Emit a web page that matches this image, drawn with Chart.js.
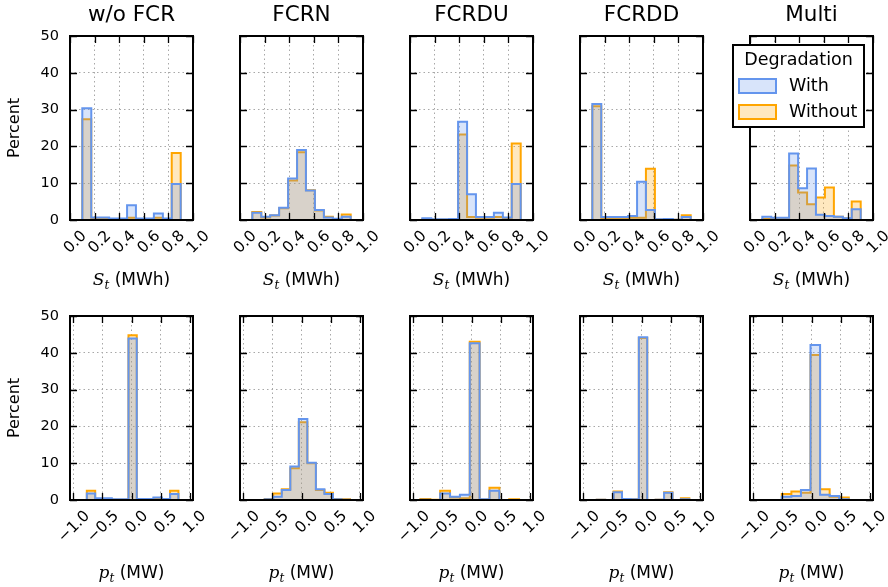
<!DOCTYPE html>
<html>
<head>
<meta charset="utf-8">
<script src="https://cdn.jsdelivr.net/npm/chart.js@4.4.0/dist/chart.umd.min.js"></script>
<style>
  html, body { margin: 0; padding: 0; background: #fff; }
  #fig { position: relative; width: 888px; height: 587px; overflow: hidden; background: #fff; }
  #fig canvas { position: absolute; }
</style>
</head>
<body>
<div id="fig"></div>
<script>
// labels
const panelTitles = ['w/o FCR', 'FCRN', 'FCRDU', 'FCRDD', 'Multi'];
const seriesLabels = ['With', 'Without'];
const legendTitle = 'Degradation';

// tick labels
const socTicks = [0.0, 0.2, 0.4, 0.6, 0.8, 1.0];
const powerTicks = [-1.0, -0.5, 0.0, 0.5, 1.0];
const percentTicks = [0, 10, 20, 30, 40, 50];

// state of charge histograms (MWh), same bins in every panel
const socEdges = [0.100, 0.173, 0.245, 0.318, 0.391, 0.464, 0.536, 0.609, 0.682, 0.755, 0.827, 0.900];
const socWithNoFcr     = [30.4, 0.7, 0.7, 0.4, 0.4, 4.0, 0.4, 0.4, 1.8, 0.4, 9.8];
const socWithoutNoFcr  = [27.4, 0.3, 0.3, 0.3, 0.3, 0.6, 0.3, 0.3, 0.6, 0.3, 18.2];
const socWithFcrn      = [2.0, 0.9, 1.3, 3.3, 11.3, 19.0, 8.0, 2.7, 0.7, 0.35, 0.9];
const socWithoutFcrn   = [2.2, 0.7, 1.2, 3.2, 10.7, 18.4, 8.1, 2.6, 0.9, 0.3, 1.5];
const socWithFcrdu     = [0.5, 0.2, 0.2, 0.3, 26.7, 7.0, 0.8, 0.8, 2.0, 0.7, 9.8];
const socWithoutFcrdu  = [0.2, 0.1, 0.1, 0.2, 23.2, 0.8, 0.6, 0.6, 0.8, 0.5, 20.8];
const socWithFcrdd     = [31.5, 0.8, 0.8, 0.8, 1.1, 10.4, 2.7, 0.2, 0.3, 0.1, 0.8];
const socWithoutFcrdd  = [30.9, 0.5, 0.5, 0.5, 0.6, 0.6, 13.9, 0.1, 0.1, 0.1, 1.3];
const socWithMulti     = [0.9, 0.6, 0.6, 18.1, 8.6, 14.0, 1.4, 1.1, 0.9, 0.5, 2.9];
const socWithoutMulti  = [0.3, 0.3, 0.3, 14.8, 7.5, 4.3, 6.1, 8.8, 0.9, 0.4, 5.0];

// power histograms (MW), bins differ per panel
const pEdgesNoFcr = [-0.770, -0.626, -0.483, -0.339, -0.196, -0.052, 0.091, 0.235, 0.378, 0.522, 0.665, 0.809];
const pWithNoFcr    = [1.8, 0.5, 0.5, 0.2, 0.2, 43.9, 0.3, 0.3, 0.7, 0.3, 1.6];
const pWithoutNoFcr = [2.5, 0.3, 0.3, 0.1, 0.1, 44.8, 0.2, 0.2, 0.4, 0.2, 2.5];
const pEdgesFcrn = [-0.781, -0.634, -0.487, -0.340, -0.193, -0.046, 0.101, 0.248, 0.395, 0.542, 0.689, 0.836];
const pWithFcrn     = [0.0, 0.2, 0.9, 2.7, 9.1, 22.0, 10.1, 2.9, 1.6, 0.2, 0.1];
const pWithoutFcrn  = [0.0, 0.3, 1.8, 2.9, 8.6, 21.1, 10.0, 2.7, 2.0, 0.3, 0.2];
const pEdgesFcrdu = [-0.88, -0.71, -0.54, -0.37, -0.20, -0.03, 0.14, 0.31, 0.48, 0.65, 0.82];
const pWithFcrdu    = [0.1, 0.0, 1.8, 0.9, 1.4, 42.6, 0.2, 2.5, 0.0, 0.0];
const pWithoutFcrdu = [0.3, 0.1, 2.5, 0.7, 0.5, 43.0, 0.1, 3.3, 0.0, 0.2];
const pEdgesFcrdd = [-0.771, -0.626, -0.481, -0.336, -0.191, -0.046, 0.099, 0.244, 0.389, 0.534, 0.679, 0.824];
const pWithFcrdd    = [0.1, 0.0, 2.1, 0.3, 0.2, 44.2, 0.0, 0.1, 2.0, 0.0, 0.2];
const pWithoutFcrdd = [0.1, 0.0, 2.3, 0.3, 0.2, 44.0, 0.0, 0.1, 2.1, 0.0, 0.5];
const pEdgesMulti = [-0.842, -0.677, -0.512, -0.347, -0.182, -0.017, 0.148, 0.313, 0.478, 0.643, 0.808];
const pWithMulti    = [0.0, 0.0, 0.9, 1.1, 2.7, 42.1, 1.4, 1.1, 0.2, 0.0];
const pWithoutMulti = [0.0, 0.0, 1.6, 2.3, 2.0, 39.4, 2.9, 0.9, 0.7, 0.0];

const BLUE = '#6495ED', BLUE_FILL = 'rgba(100,149,237,0.25)';
const ORANGE = '#FFA500', ORANGE_FILL = 'rgba(255,165,0,0.25)';
const FONT = '"DejaVu Sans", sans-serif';
const SERIF = '"DejaVu Serif", serif';

// step outline of a histogram: up at first edge, across each bin, down at last edge
function histPoints(edges, vals) {
    const pts = [{ x: edges[0], y: 0 }];
    vals.forEach((v, i) => pts.push({ x: edges[i], y: v }));
    pts.push({ x: edges[edges.length - 1], y: vals[vals.length - 1] });
    pts.push({ x: edges[edges.length - 1], y: 0 });
    return pts;
}

// swap the generated ticks for fixed ones, keeping the same array object
function fixTicks(values) {
    return s => { s.ticks.splice(0, s.ticks.length, ...values.map(v => ({ value: v }))); };
}

const panels = [
    { row: 0, col: 0, edges: socEdges, w: socWithNoFcr, wo: socWithoutNoFcr },
    { row: 0, col: 1, edges: socEdges, w: socWithFcrn, wo: socWithoutFcrn },
    { row: 0, col: 2, edges: socEdges, w: socWithFcrdu, wo: socWithoutFcrdu },
    { row: 0, col: 3, edges: socEdges, w: socWithFcrdd, wo: socWithoutFcrdd },
    { row: 0, col: 4, edges: socEdges, w: socWithMulti, wo: socWithoutMulti, legend: true },
    { row: 1, col: 0, edges: pEdgesNoFcr, w: pWithNoFcr, wo: pWithoutNoFcr },
    { row: 1, col: 1, edges: pEdgesFcrn, w: pWithFcrn, wo: pWithoutFcrn },
    { row: 1, col: 2, edges: pEdgesFcrdu, w: pWithFcrdu, wo: pWithoutFcrdu },
    { row: 1, col: 3, edges: pEdgesFcrdd, w: pWithFcrdd, wo: pWithoutFcrdd },
    { row: 1, col: 4, edges: pEdgesMulti, w: pWithMulti, wo: pWithoutMulti }
];

// frame, inward ticks, titles, axis labels and legend
const decor = {
    id: 'decor',
    afterDraw(chart, args, opts) {
        const { ctx, chartArea: a, scales } = chart;
        const cx = (a.left + a.right) / 2, cy = (a.top + a.bottom) / 2;
        ctx.save();

        ctx.strokeStyle = '#000';
        ctx.lineWidth = 1.3;
        const tl = 7;
        ctx.beginPath();
        scales.x.ticks.forEach(t => {
            const px = Math.round(scales.x.getPixelForValue(t.value)) + 0.5;
            ctx.moveTo(px, a.bottom); ctx.lineTo(px, a.bottom - tl);
            ctx.moveTo(px, a.top); ctx.lineTo(px, a.top + tl);
        });
        scales.y.ticks.forEach(t => {
            const py = Math.round(scales.y.getPixelForValue(t.value)) + 0.5;
            ctx.moveTo(a.left, py); ctx.lineTo(a.left + tl, py);
            ctx.moveTo(a.right, py); ctx.lineTo(a.right - tl, py);
        });
        ctx.stroke();

        ctx.lineWidth = 2;
        ctx.strokeRect(a.left, a.top, a.right - a.left, a.bottom - a.top);

        ctx.fillStyle = '#000';
        if (opts.title) {
            ctx.font = '21.5px ' + FONT;
            ctx.textAlign = 'center';
            ctx.textBaseline = 'alphabetic';
            ctx.fillText(opts.title, cx, a.top - 15);
        }

        // x label with subscript
        const parts = opts.xLabel;
        let total = 0;
        parts.forEach(p => { ctx.font = p.font; p.w = ctx.measureText(p.text).width; total += p.w; });
        let x = cx - total / 2;
        ctx.textAlign = 'left';
        ctx.textBaseline = 'alphabetic';
        parts.forEach(p => {
            ctx.font = p.font;
            ctx.fillText(p.text, x, a.bottom + opts.xLabelGap + (p.dy || 0));
            x += p.w;
        });

        if (opts.yLabel) {
            ctx.save();
            ctx.translate(a.left - 55, cy);
            ctx.rotate(-Math.PI / 2);
            ctx.font = '16px ' + FONT;
            ctx.textAlign = 'center';
            ctx.textBaseline = 'middle';
            ctx.fillText(opts.yLabel, 0, 0);
            ctx.restore();
        }

        if (opts.legend) {
            const lx = a.left - 17, ly = a.top + 9, lw = 131, lh = 82;
            ctx.fillStyle = '#fff';
            ctx.fillRect(lx, ly, lw, lh);
            ctx.lineWidth = 2;
            ctx.strokeStyle = '#000';
            ctx.strokeRect(lx, ly, lw, lh);
            ctx.fillStyle = '#000';
            ctx.font = '17.5px ' + FONT;
            ctx.textAlign = 'center';
            ctx.textBaseline = 'middle';
            ctx.fillText(legendTitle, lx + lw / 2, ly + 15);
            chart.data.datasets.forEach((ds, i) => {
                const ry = ly + 34 + i * 26;
                ctx.fillStyle = ds.backgroundColor;
                ctx.fillRect(lx + 6, ry, 37, 14);
                ctx.strokeStyle = ds.borderColor;
                ctx.lineWidth = 2;
                ctx.strokeRect(lx + 6, ry, 37, 14);
                ctx.fillStyle = '#000';
                ctx.textAlign = 'left';
                ctx.fillText(ds.label, lx + 56, ry + 7);
            });
        }
        ctx.restore();
    }
};

const fig = document.getElementById('fig');
const Y_AXIS_W = 60, X_AXIS_H = 60;

panels.forEach(p => {
    const boxLeft = 70 + 170 * p.col;
    const boxTop = p.row === 0 ? 36 : 316;
    const canvasTop = p.row === 0 ? 0 : 296;
    const canvasH = p.row === 0 ? 296 : 291;
    const padTop = boxTop - canvasTop;
    const padBottom = canvasH - padTop - 184 - X_AXIS_H;

    const canvas = document.createElement('canvas');
    canvas.width = 208;
    canvas.height = canvasH;
    canvas.style.left = (boxLeft - 70) + 'px';
    canvas.style.top = canvasTop + 'px';
    fig.appendChild(canvas);

    const isSoc = p.row === 0;
    const xTicks = isSoc ? socTicks : powerTicks;
    const xLabel = isSoc
        ? [{ text: 'S', font: 'italic 17px ' + SERIF }, { text: 't', font: 'italic 12px ' + SERIF, dy: 4 }, { text: ' (MWh)', font: '17px ' + FONT }]
        : [{ text: 'p', font: 'italic 17px ' + SERIF }, { text: 't', font: 'italic 12px ' + SERIF, dy: 4 }, { text: ' (MW)', font: '17px ' + FONT }];

    new Chart(canvas, {
        type: 'line',
        data: {
            datasets: [{
                label: seriesLabels[0],
                data: histPoints(p.edges, p.w),
                borderColor: BLUE,
                backgroundColor: BLUE_FILL,
                borderWidth: 2,
                fill: 'origin',
                stepped: true,
                pointRadius: 0
            }, {
                label: seriesLabels[1],
                data: histPoints(p.edges, p.wo),
                borderColor: ORANGE,
                backgroundColor: ORANGE_FILL,
                borderWidth: 2,
                fill: 'origin',
                stepped: true,
                pointRadius: 0
            }]
        },
        options: {
            responsive: false,
            animation: false,
            devicePixelRatio: 1,
            events: [],
            layout: { padding: { left: 70 - Y_AXIS_W, right: 15, top: padTop, bottom: padBottom } },
            plugins: {
                legend: { display: false },
                title: { display: false },
                tooltip: { enabled: false },
                decor: {
                    title: p.row === 0 ? panelTitles[p.col] : null,
                    xLabel: xLabel,
                    xLabelGap: isSoc ? 65 : 78,
                    yLabel: p.col === 0 ? 'Percent' : null,
                    legend: !!p.legend
                }
            },
            scales: {
                x: {
                    type: 'linear',
                    min: isSoc ? 0 : -1.06,
                    max: isSoc ? 1 : 1.06,
                    afterBuildTicks: fixTicks(xTicks),
                    afterFit: s => {
                        s.height = X_AXIS_H;
                        s.paddingLeft = s.paddingRight = s.paddingTop = s.paddingBottom = 0;
                    },
                    grid: { color: '#a8a8a8', lineWidth: 1, drawTicks: false },
                    border: { display: false, dash: [1.5, 3] },
                    ticks: {
                        autoSkip: false,
                        minRotation: 45, maxRotation: 45,
                        padding: 7, labelOffset: 14,
                        color: '#000',
                        font: { family: FONT, size: 15.5 },
                        callback: v => v.toFixed(1).replace('-', '\u2212')
                    }
                },
                y: {
                    min: 0, max: 50,
                    afterBuildTicks: fixTicks(percentTicks),
                    afterFit: s => {
                        s.width = Y_AXIS_W;
                        s.paddingLeft = s.paddingRight = s.paddingTop = s.paddingBottom = 0;
                    },
                    grid: { color: '#a8a8a8', lineWidth: 1, drawTicks: false },
                    border: { display: false, dash: [1.5, 3] },
                    ticks: {
                        display: p.col === 0,
                        autoSkip: false,
                        padding: 11,
                        color: '#000',
                        font: { family: FONT, size: 14.5 }
                    }
                }
            }
        },
        plugins: [decor]
    });
});
</script>
</body>
</html>
